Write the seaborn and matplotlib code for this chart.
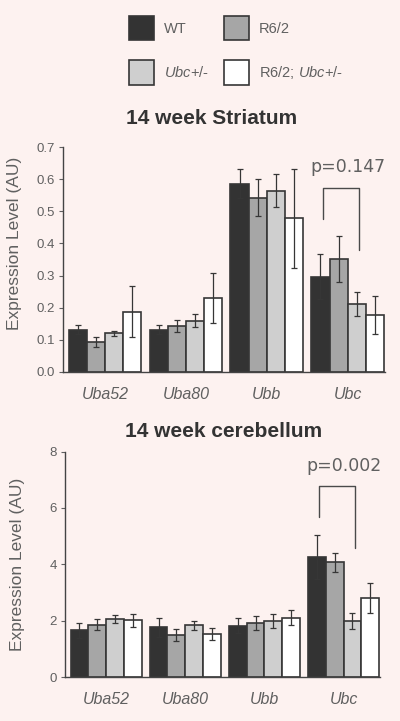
import pandas as pd
import seaborn as sns
import matplotlib
matplotlib.use("Agg")
import matplotlib.pyplot as plt
from matplotlib.patches import Patch

genes = ["Uba52", "Uba80", "Ubb", "Ubc"]
genotypes = ["WT", "R6/2", "Ubc+/-", "R6/2; Ubc+/-"]
genotype_labels = ["WT", "R6/2", r"$\mathit{Ubc}$+/-", r"R6/2; $\mathit{Ubc}$+/-"]
colors = ["#333333", "#a6a6a6", "#cfcfcf", "#ffffff"]

# rows = genotype, columns = gene
striatum_mean = [
    [0.132, 0.132, 0.586, 0.297],
    [0.094, 0.144, 0.542, 0.352],
    [0.120, 0.160, 0.564, 0.211],
    [0.188, 0.230, 0.479, 0.177],
]
striatum_sem = [
    [0.013, 0.015, 0.045, 0.071],
    [0.015, 0.018, 0.057, 0.071],
    [0.009, 0.021, 0.052, 0.037],
    [0.080, 0.079, 0.154, 0.059],
]
cerebellum_mean = [
    [1.66, 1.76, 1.82, 4.25],
    [1.86, 1.49, 1.93, 4.07],
    [2.05, 1.83, 1.99, 1.98],
    [2.01, 1.53, 2.11, 2.80],
]
cerebellum_sem = [
    [0.26, 0.33, 0.27, 0.77],
    [0.19, 0.20, 0.25, 0.33],
    [0.15, 0.15, 0.25, 0.29],
    [0.23, 0.20, 0.25, 0.52],
]

striatum_p = "p=0.147"
striatum_bracket = [0.476, 0.574, 0.380]  # left leg end, top, right leg end
cerebellum_p = "p=0.002"
cerebellum_bracket = [5.67, 6.77, 4.56]

BG = "#fdf2f0"
EDGE = "#363636"
GREY = "#606060"

sns.set_style("ticks")
plt.rcParams["font.family"] = ["Liberation Sans", "DejaVu Sans"]
plt.rcParams["mathtext.fontset"] = "custom"
plt.rcParams["mathtext.rm"] = "Liberation Sans"
plt.rcParams["mathtext.it"] = "Liberation Sans:italic"


def _long(means, sems):
    rows = []
    for g, m_row, s_row in zip(genotypes, means, sems):
        for gene, m, s in zip(genes, m_row, s_row):
            rows.append({"gene": gene, "genotype": g, "value": m, "err": s})
    return pd.DataFrame(rows)


def panel(ax, df, ylim, yticks, fmt, pval, bracket, label_y):
    ax.set_facecolor(BG)
    sns.barplot(data=df, x="gene", y="value", hue="genotype", order=genes,
                hue_order=genotypes, palette=colors, saturation=1, width=0.9,
                errorbar=None, edgecolor=EDGE, linewidth=1.2, legend=False, ax=ax)
    centers = {}
    bar_containers = list(ax.containers)
    for container, g in zip(bar_containers, genotypes):
        for bar, gene in zip(container, genes):
            row = df[(df.genotype == g) & (df.gene == gene)].iloc[0]
            x = bar.get_x() + bar.get_width() / 2
            centers[(g, gene)] = x
            ax.errorbar(x, row["value"], yerr=row["err"], fmt="none", ecolor=EDGE,
                        elinewidth=0.9, capsize=2.2, capthick=0.9)
    xl = centers[("WT", "Ubc")] + 0.03
    xr = centers[("Ubc+/-", "Ubc")] + 0.03
    ax.plot([xl, xl, xr, xr], [bracket[0], bracket[1], bracket[1], bracket[2]],
            color="#4a4a4a", lw=1.0)
    ax.text(3.0, bracket[1] + (ylim[1] - ylim[0]) * 0.09, pval, ha="center",
            va="center", fontsize=12.5, color=GREY, family=["DejaVu Sans"])
    ax.set_ylim(*ylim)
    ax.set_xlim(-0.52, 3.46)
    ax.set_yticks(yticks)
    ax.set_yticklabels([fmt.format(t) for t in yticks])
    ax.set_xlabel("")
    ax.set_ylabel("Expression Level (AU)", fontsize=12.5, color=GREY)
    ax.yaxis.set_label_coords(-0.128, label_y)
    ax.tick_params(axis="y", length=3, width=0.8, colors=GREY, labelsize=9.5, pad=3)
    ax.tick_params(axis="x", length=0, colors=GREY, labelsize=11.5, pad=11)
    for t in ax.get_xticklabels():
        t.set_fontstyle("italic")
    sns.despine(ax=ax)
    for s in ["left", "bottom"]:
        ax.spines[s].set_color("#444444")
        ax.spines[s].set_linewidth(1.0)


fig = plt.figure(figsize=(4.0, 7.21), dpi=100, facecolor=BG)

ax1 = fig.add_axes([63 / 400, 1 - 372 / 721, 322 / 400, 225 / 721])
panel(ax1, _long(striatum_mean, striatum_sem), (0, 0.7),
      [0.0, 0.1, 0.2, 0.3, 0.4, 0.5, 0.6, 0.7], "{:.1f}", striatum_p,
      striatum_bracket, 0.57)

ax2 = fig.add_axes([65 / 400, 1 - 677 / 721, 315 / 400, 225.5 / 721])
panel(ax2, _long(cerebellum_mean, cerebellum_sem), (0, 8),
      [0, 2, 4, 6, 8], "{:.0f}", cerebellum_p, cerebellum_bracket, 0.5)

fig.text(212 / 400, 1 - 118 / 721, "14 week Striatum", ha="center", va="center",
         fontsize=15, fontweight="bold", color="#333333")
fig.text(224 / 400, 1 - 432 / 721, "14 week cerebellum", ha="center", va="center",
         fontsize=15, fontweight="bold", color="#333333")

handles = [Patch(facecolor=c, edgecolor=EDGE, linewidth=1.2) for c in colors]
order = [0, 2, 1, 3]
fig.legend([handles[i] for i in order], [genotype_labels[i] for i in order],
           ncol=2, loc="upper left", bbox_to_anchor=(129 / 400, 1 - 16 / 721),
           frameon=False, borderpad=0, borderaxespad=0, fontsize=10.5,
           handlelength=1.72, handleheight=2.2, handletextpad=0.7,
           labelspacing=1.36, columnspacing=1.0, labelcolor=GREY)

fig.savefig("out.png", dpi=100, facecolor=BG)
